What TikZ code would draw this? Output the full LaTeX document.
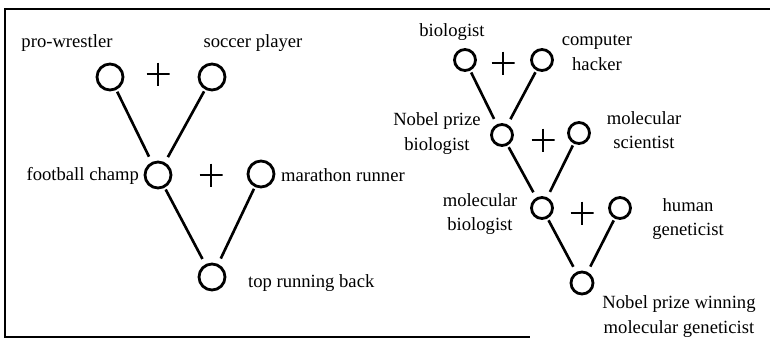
\documentclass[tikz,border=0pt]{standalone}
\usepackage{fontspec}
\setmainfont{Liberation Serif}
\usetikzlibrary{positioning}

\tikzset{
	person/.style={circle,draw,line width=1.6pt,minimum size=#1,inner sep=0pt},
	person/.default=0.52cm,
	plus/.style={minimum size=0.46cm,inner sep=0pt,
		path picture={\draw[line width=1.6pt]
			(path picture bounding box.north) -- (path picture bounding box.south)
			(path picture bounding box.west) -- (path picture bounding box.east);}},
	lbl/.style={inner sep=1pt,align=center},
	link/.style={line width=1.5pt,shorten <=0.04cm,shorten >=0.12cm}
}

\begin{document}
\begin{tikzpicture}[font=\fontsize{10.6}{14}\selectfont]
	\useasboundingbox (0,0) rectangle (15.4,6.8);
	% frame
	\draw[line width=1.7pt] (15.4,6.62) -- (0.1,6.62) -- (0.1,0.06) -- (10.6,0.06);

	% left tree
	\node[person] (pw) at (2.20,5.26) {};
	\node[person] (sp) at (4.24,5.26) {};
	\node[plus] (p1) at (3.16,5.32) {};
	\node[person] (fc) at (3.16,3.30) {};
	\node[person] (mr) at (5.22,3.32) {};
	\node[plus] (p2) at (4.22,3.30) {};
	\node[person] (trb) at (4.24,1.26) {};

	\node[lbl] (pwl) at (1.34,5.94) {pro-wrestler};
	\node[lbl] (spl) at (5.06,5.94) {soccer player};
	\node[lbl,anchor=east] (fcl) at (2.82,3.28) {football champ};
	\node[lbl,anchor=west] (mrl) at (5.58,3.30) {marathon runner};
	\node[lbl,anchor=west] (trbl) at (4.92,1.14) {top running back};

	\draw[link] (pw) -- (fc);
	\draw[link] (sp) -- (fc);
	\draw[link] (fc) -- (trb);
	\draw[link] (mr) -- (trb);

	% right tree
	\node[person=0.42cm] (bio) at (9.30,5.60) {};
	\node[person=0.42cm] (ch) at (10.84,5.60) {};
	\node[plus] (p3) at (10.06,5.54) {};
	\node[person=0.42cm] (npb) at (10.04,4.10) {};
	\node[person=0.42cm] (ms) at (11.58,4.14) {};
	\node[plus] (p4) at (10.86,4.00) {};
	\node[person=0.42cm] (mb) at (10.84,2.64) {};
	\node[person=0.42cm] (hg) at (12.40,2.64) {};
	\node[plus] (p5) at (11.64,2.54) {};
	\node[person=0.44cm] (npmg) at (11.64,1.14) {};

	\node[lbl] (biol) at (9.04,6.16) {biologist};
	\node[lbl] (chl) at (11.94,5.74) {computer\\hacker};
	\node[lbl] (npbl) at (8.74,4.13) {Nobel prize\\biologist};
	\node[lbl] (msl) at (12.88,4.20) {molecular\\scientist};
	\node[lbl] (mbl) at (9.60,2.52) {molecular\\biologist};
	\node[lbl] (hgl) at (13.76,2.42) {human\\geneticist};
	\node[lbl] (npmgl) at (13.58,0.47) {Nobel prize winning\\molecular geneticist};

	\draw[link] (bio) -- (npb);
	\draw[link] (ch) -- (npb);
	\draw[link] (npb) -- (mb);
	\draw[link] (ms) -- (mb);
	\draw[link] (mb) -- (npmg);
	\draw[link] (hg) -- (npmg);
\end{tikzpicture}
\end{document}
